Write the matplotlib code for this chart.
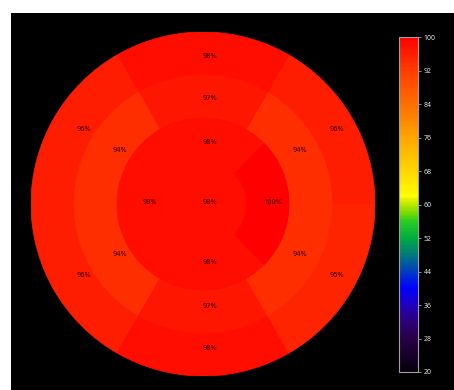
import numpy as np
import matplotlib
matplotlib.use("Agg")
import matplotlib.pyplot as plt
from matplotlib.patches import Wedge, Circle
from matplotlib.colors import LinearSegmentedColormap, Normalize
from matplotlib.colorbar import ColorbarBase

# Segment values (%), counter-clockwise, starting at the first segment centre angle
outer_angles = [30, 90, 150, 210, 270, 330]
outer_values = [96, 98, 96, 96, 98, 95]
middle_angles = [30, 90, 150, 210, 270, 330]
middle_values = [94, 97, 94, 94, 97, 94]
inner_angles = [0, 90, 180, 270]
inner_values = [100, 98, 98, 98]
apex_value = 98

cbar_ticks = [20, 28, 36, 44, 52, 60, 68, 76, 84, 92, 100]
vmin, vmax = 20, 100

# Black -> purple -> blue -> green -> yellow -> orange -> red scale
nodes = [
    (20, (0.02, 0.0, 0.05)),
    (28, (0.16, 0.0, 0.28)),
    (32, (0.18, 0.0, 0.48)),
    (36, (0.12, 0.0, 0.75)),
    (40, (0.0, 0.0, 1.0)),
    (44, (0.0, 0.24, 0.75)),
    (48, (0.0, 0.48, 0.48)),
    (52, (0.0, 0.68, 0.25)),
    (56, (0.16, 0.80, 0.12)),
    (58, (0.47, 0.86, 0.0)),
    (61, (0.86, 0.94, 0.0)),
    (62, (1.0, 1.0, 0.0)),
    (68, (1.0, 0.84, 0.0)),
    (76, (1.0, 0.65, 0.0)),
    (84, (1.0, 0.43, 0.0)),
    (92, (1.0, 0.24, 0.0)),
    (100, (1.0, 0.0, 0.0)),
]
cmap = LinearSegmentedColormap.from_list(
    "perfusion", [((v - vmin) / (vmax - vmin), c) for v, c in nodes])
norm = Normalize(vmin=vmin, vmax=vmax)

W, H = 454, 390
fig = plt.figure(figsize=(W / 100, H / 100), dpi=100)
fig.patch.set_facecolor("white")

# dark panel
bg = fig.add_axes([11 / W, 0, (W - 11) / W, (H - 13) / H])
bg.set_facecolor("black")
bg.set_xticks([]); bg.set_yticks([])
for s in bg.spines.values():
    s.set_visible(False)

# bullseye axes: centre at (203, 204) px, radius 172 px
R = 172
ax = fig.add_axes([(203 - R) / W, (H - 204 - R) / H, 2 * R / W, 2 * R / H])
ax.set_xlim(-4, 4)
ax.set_ylim(-4, 4)
ax.set_aspect("equal")
ax.axis("off")

label_font = dict(fontsize=5.3, family=["Noto Sans", "DejaVu Sans"], color="#300000",
                  ha="left", va="baseline")


def ring(angles, values, r_in, r_out, r_lab, z):
    n = len(angles)
    half = 180 / n
    for a, v in zip(angles, values):
        col = cmap(norm(v))
        ax.add_patch(Wedge((0, 0), r_out, a - half, a + half, width=r_out - r_in,
                           facecolor=col, edgecolor=col, linewidth=0.6, zorder=z))
    for a, v in zip(angles, values):
        t = np.deg2rad(a)
        ax.text(r_lab * np.cos(t), r_lab * np.sin(t), f"{v}%", zorder=10, **label_font)


ring(outer_angles, outer_values, 3, 4, 3.39, 1)
ring(middle_angles, middle_values, 2, 3, 2.42, 2)
ring(inner_angles, inner_values, 1, 2, 1.40, 3)
apex_col = cmap(norm(apex_value))
ax.add_patch(Circle((0, 0), 1, facecolor=apex_col, edgecolor=apex_col,
                    linewidth=0.6, zorder=4))
ax.text(0, 0, f"{apex_value}%", zorder=10, **label_font)

# colour bar
cax = fig.add_axes([399 / W, (H - 372) / H, 19 / W, 335 / H])
cb = ColorbarBase(cax, cmap=cmap, norm=norm, orientation="vertical", ticks=cbar_ticks)
cb.outline.set_edgecolor("#a0a0a0")
cb.outline.set_linewidth(0.8)
cax.tick_params(colors="#a0a0a0", length=2.5, width=0.6, pad=1.5)
for lab in cax.get_yticklabels():
    lab.set_color("#e0e0e0")
    lab.set_fontsize(5)
    lab.set_family(["Noto Sans", "DejaVu Sans"])

fig.savefig("out.png", dpi=100, facecolor=fig.get_facecolor())
